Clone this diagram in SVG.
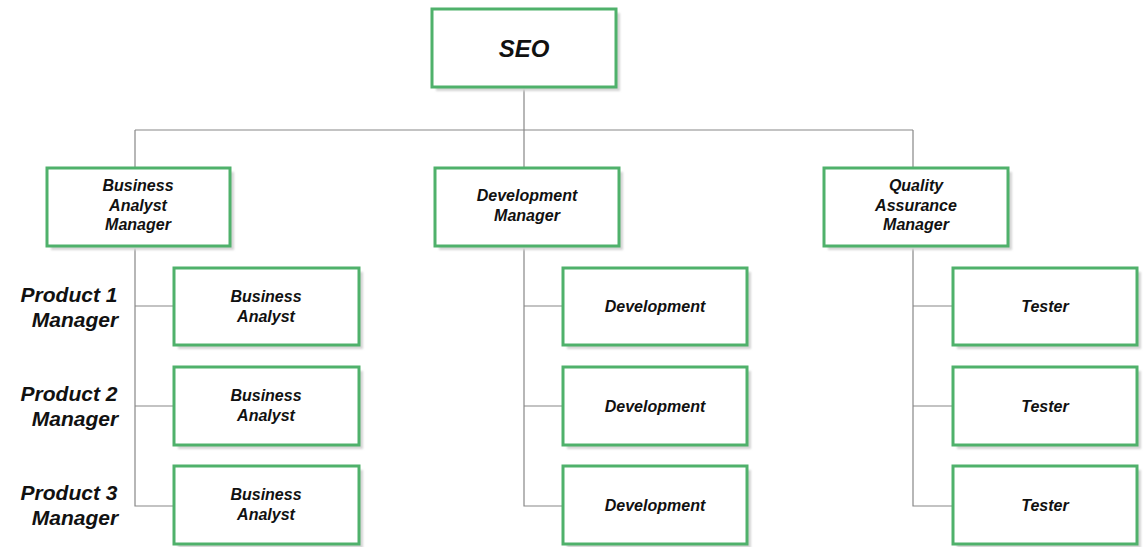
<svg xmlns="http://www.w3.org/2000/svg" width="1145" height="547" viewBox="0 0 1145 547">
<style>
.box{fill:#fff;stroke:#4fb16b;stroke-width:3}
.sh{fill:#d4d4d4}
.t{font-family:"Liberation Sans",Arial,sans-serif;font-weight:bold;font-style:italic;font-size:16px;fill:#111;text-anchor:middle}
.big{font-size:24px}
.lbl{font-family:"Liberation Sans",Arial,sans-serif;font-weight:bold;font-style:italic;font-size:21px;fill:#111;text-anchor:middle}
.c{stroke:#888;stroke-width:1.2;fill:none}
</style>
<defs>
<filter id="b" x="-10%" y="-10%" width="130%" height="130%"><feGaussianBlur stdDeviation="1"/></filter>
</defs>
<g id="connectors">
<path class="c" d="M524 87V130M135 130H913M135 130V168M524 130V168M913 130V168"/>
<path class="c" d="M135 246V506H174M135 306H174M135 406H174"/>
<path class="c" d="M524 246V506H563M524 306H563M524 406H563"/>
<path class="c" d="M913 246V506H953M913 306H953M913 406H953"/>
</g>
<g id="seo"><rect class="sh" x="436" y="13" width="184" height="78" filter="url(#b)"/><rect class="box" x="432" y="9" width="184" height="78"/><text class="t big" x="524" y="57">SEO</text></g>
<g id="ba-manager"><rect class="sh" x="51" y="172" width="183" height="78" filter="url(#b)"/><rect class="box" x="47" y="168" width="183" height="78"/><text class="t" x="138" y="191">Business</text><text class="t" x="138" y="211">Analyst</text><text class="t" x="138" y="230">Manager</text></g>
<g id="dev-manager"><rect class="sh" x="439" y="172" width="184" height="78" filter="url(#b)"/><rect class="box" x="435" y="168" width="184" height="78"/><text class="t" x="527" y="201">Development</text><text class="t" x="527" y="221">Manager</text></g>
<g id="qa-manager"><rect class="sh" x="828" y="172" width="184" height="78" filter="url(#b)"/><rect class="box" x="824" y="168" width="184" height="78"/><text class="t" x="916" y="191">Quality</text><text class="t" x="916" y="211">Assurance</text><text class="t" x="916" y="230">Manager</text></g>

<g id="ba1"><rect class="sh" x="178" y="272" width="185" height="77" filter="url(#b)"/><rect class="box" x="174" y="268" width="185" height="77"/><text class="t" x="266" y="302">Business</text><text class="t" x="266" y="322">Analyst</text></g>
<g id="ba2"><rect class="sh" x="178" y="371" width="185" height="78" filter="url(#b)"/><rect class="box" x="174" y="367" width="185" height="78"/><text class="t" x="266" y="401">Business</text><text class="t" x="266" y="421">Analyst</text></g>
<g id="ba3"><rect class="sh" x="178" y="470" width="185" height="78" filter="url(#b)"/><rect class="box" x="174" y="466" width="185" height="78"/><text class="t" x="266" y="500">Business</text><text class="t" x="266" y="520">Analyst</text></g>

<g id="dev1"><rect class="sh" x="567" y="272" width="184" height="77" filter="url(#b)"/><rect class="box" x="563" y="268" width="184" height="77"/><text class="t" x="655" y="312">Development</text></g>
<g id="dev2"><rect class="sh" x="567" y="371" width="184" height="78" filter="url(#b)"/><rect class="box" x="563" y="367" width="184" height="78"/><text class="t" x="655" y="412">Development</text></g>
<g id="dev3"><rect class="sh" x="567" y="470" width="184" height="78" filter="url(#b)"/><rect class="box" x="563" y="466" width="184" height="78"/><text class="t" x="655" y="511">Development</text></g>

<g id="tester1"><rect class="sh" x="957" y="272" width="184" height="77" filter="url(#b)"/><rect class="box" x="953" y="268" width="184" height="77"/><text class="t" x="1045" y="312">Tester</text></g>
<g id="tester2"><rect class="sh" x="957" y="371" width="184" height="78" filter="url(#b)"/><rect class="box" x="953" y="367" width="184" height="78"/><text class="t" x="1045" y="412">Tester</text></g>
<g id="tester3"><rect class="sh" x="957" y="470" width="184" height="78" filter="url(#b)"/><rect class="box" x="953" y="466" width="184" height="78"/><text class="t" x="1045" y="511">Tester</text></g>

<g id="product-labels">
<text class="lbl" x="69" y="302">Product 1</text><text class="lbl" x="75" y="327">Manager</text>
<text class="lbl" x="69" y="401">Product 2</text><text class="lbl" x="75" y="426">Manager</text>
<text class="lbl" x="69" y="500">Product 3</text><text class="lbl" x="75" y="525">Manager</text>
</g>
</svg>
